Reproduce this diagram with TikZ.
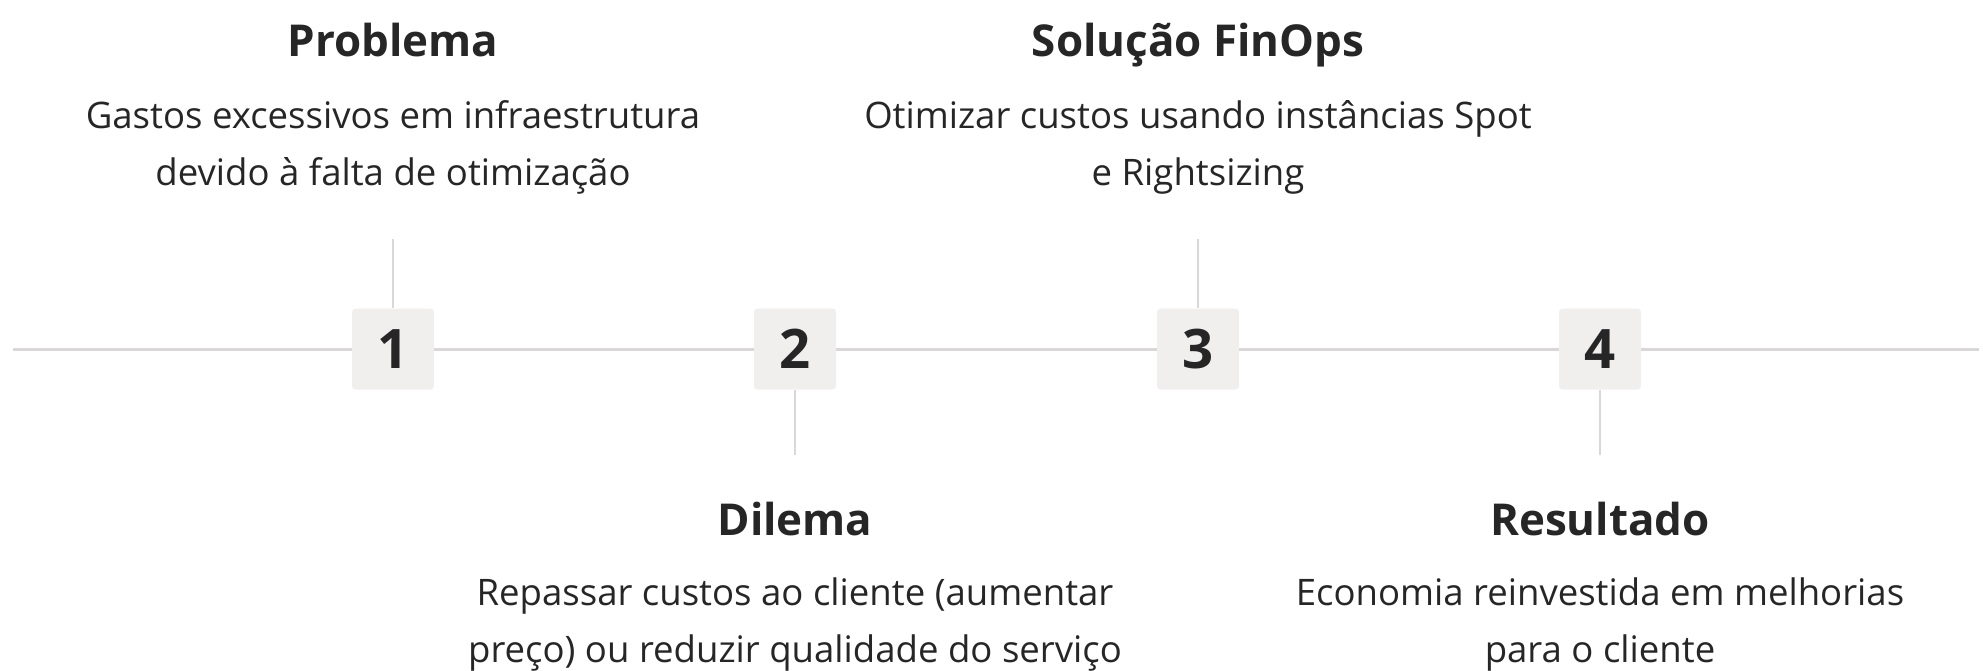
\documentclass[tikz,border=0pt]{standalone}
\usepackage{fontspec}
\setmainfont{Open Sans}
\usepackage{tikz}
\usetikzlibrary{positioning}
\definecolor{ink}{HTML}{262626}
\definecolor{rail}{HTML}{D9D7D7}
\definecolor{boxfill}{HTML}{F1EEEE}
\tikzstyle{numbox} = [rectangle, rounded corners=2pt, fill=boxfill, minimum width=1.64cm, minimum height=1.62cm, inner sep=0pt, text=ink, font=\fontsize{31}{31}\selectfont\bfseries]
\tikzstyle{heading} = [anchor=base, text=ink, inner sep=0pt, font=\fontsize{25}{25}\selectfont\bfseries]
\tikzstyle{desc} = [anchor=base, align=center, text=ink, inner sep=0pt, font=\fontsize{20.8}{32.4}\selectfont]
\tikzstyle{railline} = [draw=rail, line width=1.7pt]
\tikzstyle{tickline} = [draw=rail, line width=1.4pt]
\begin{document}
\begin{tikzpicture}[x=0.02cm, y=-0.02cm]
    \useasboundingbox (0,0) rectangle (1983,670);

    % Timeline steps
    \node[numbox] (n1) at (393, 349) {1};
    \node[numbox] (n2) at (795, 349) {2};
    \node[numbox] (n3) at (1198, 349) {3};
    \node[numbox] (n4) at (1600, 349) {4};

    % Rail ends
    \coordinate (railstart) at (13, 349);
    \coordinate (railend) at (1979, 349);

    % Tick ends
    \coordinate (t1) at (393, 239);
    \coordinate (t2) at (795, 455);
    \coordinate (t3) at (1198, 239);
    \coordinate (t4) at (1600, 455);

    % Upper labels
    \node[heading] (h1) at (393, 56) {Problema};
    \node[desc] (d1) at (393, 185) {Gastos excessivos em infraestrutura\\devido à falta de otimização};
    \node[heading] (h3) at (1198, 56) {Solução FinOps};
    \node[desc] (d3) at (1198, 185) {Otimizar custos usando instâncias Spot\\e Rightsizing};

    % Lower labels
    \node[heading] (h2) at (795, 535) {Dilema};
    \node[desc] (d2) at (795, 662) {Repassar custos ao cliente (aumentar\\preço) ou reduzir qualidade do serviço};
    \node[heading] (h4) at (1600, 535) {Resultado};
    \node[desc] (d4) at (1600, 662) {Economia reinvestida em melhorias\\para o cliente};

    % Rail
    \draw[railline] (railstart) -- (n1);
    \draw[railline] (n1) -- (n2);
    \draw[railline] (n2) -- (n3);
    \draw[railline] (n3) -- (n4);
    \draw[railline] (n4) -- (railend);

    % Ticks
    \draw[tickline] (t1) -- (n1);
    \draw[tickline] (n2) -- (t2);
    \draw[tickline] (t3) -- (n3);
    \draw[tickline] (n4) -- (t4);
\end{tikzpicture}
\end{document}
